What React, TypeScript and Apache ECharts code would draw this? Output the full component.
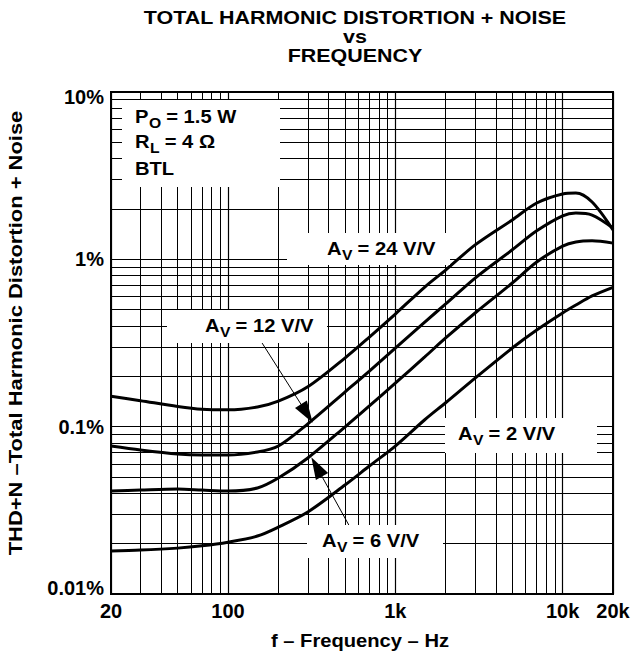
import React, { useEffect, useRef } from 'react';
import * as echarts from 'echarts';

const FONT = '"Liberation Sans", Arial, Helvetica, sans-serif';

// Frequencies (Hz) and THD+N (%)
const freqHz = [20, 30, 50, 70, 100, 150, 200, 300, 500, 700, 1000, 1500, 2000, 3000, 5000, 7000, 10000, 12000, 15000, 20000];
const thdAv24 = [0.152, 0.143, 0.132, 0.127, 0.126, 0.131, 0.142, 0.173, 0.257, 0.343, 0.471, 0.683, 0.863, 1.22, 1.72, 2.17, 2.46, 2.49, 2.2, 1.5];
const thdAv12 = [0.0766, 0.0725, 0.0686, 0.0677, 0.0677, 0.0706, 0.0766, 0.104, 0.161, 0.215, 0.295, 0.422, 0.541, 0.773, 1.14, 1.48, 1.82, 1.89, 1.84, 1.54];
const thdAv6 = [0.0412, 0.0418, 0.0424, 0.0418, 0.0412, 0.043, 0.0493, 0.065, 0.0995, 0.133, 0.182, 0.261, 0.339, 0.478, 0.722, 0.964, 1.2, 1.27, 1.29, 1.25];
const thdAv2 = [0.0181, 0.0183, 0.0188, 0.0194, 0.0204, 0.0222, 0.0251, 0.0309, 0.0448, 0.0582, 0.0766, 0.11, 0.139, 0.195, 0.295, 0.378, 0.478, 0.533, 0.604, 0.68];

// Axis ticks
const xTickValues = [20, 100, 1000, 10000, 20000];
const xTickLabels = ['20', '100', '1k', '10k', '20k'];
const yTickValues = [0.01, 0.1, 1, 10];
const yTickLabels = ['0.01%', '0.1%', '1%', '10%'];
const xMinorGrid = [30, 40, 50, 60, 70, 80, 90, 200, 300, 400, 500, 600, 700, 800, 900, 2000, 3000, 4000, 5000, 6000, 7000, 8000, 9000];
const yMinorGrid = [0.02, 0.03, 0.04, 0.05, 0.06, 0.07, 0.08, 0.09, 0.2, 0.3, 0.4, 0.5, 0.6, 0.7, 0.8, 0.9, 2, 3, 4, 5, 6, 7, 8, 9];

// Annotation arrows (data coordinates: tail, head)
const arrowAv12 = [[160, 0.316], [296, 0.12]];
const arrowAv6 = [[536, 0.0251], [339, 0.0575]];

const EM: Record<string, number> = { A: 0.722, V: 0.667, O: 0.778, L: 0.611, P: 0.667, R: 0.722, ' ': 0.278 };

function nearestLabel(v: number, vals: number[], labels: string[]) {
  let best = 0;
  let bd = Infinity;
  vals.forEach((t, i) => {
    const d = Math.abs(Math.log10(v) - Math.log10(t));
    if (d < bd) { bd = d; best = i; }
  });
  return labels[best];
}

function txt(x: number, y: number, text: string, fs: number, extra: any = {}) {
  return {
    type: 'text', x, y, z: 101,
    style: {
      text, fontSize: fs, fontWeight: 'bold', fontFamily: FONT, fill: '#000',
      align: 'left', verticalAlign: 'middle', textAlign: 'left', textVerticalAlign: 'middle', ...extra,
    },
  };
}

function subLabel(x: number, baseY: number, main: string, sub: string, rest: string, fs = 18, sfs = 14, sx = 1.12) {
  const mw = EM[main] * fs;
  const sw = EM[sub] * sfs;
  const sp = EM[' '] * fs;
  return {
    type: 'group', x, y: baseY, scaleX: sx, z: 101,
    children: [
      txt(0, -0.35 * fs, main, fs),
      txt(mw + 0.5, 0, sub, sfs),
      txt(mw + sw + sp, -0.35 * fs, rest, fs),
    ],
  };
}

function box(x: number, y: number, w: number, h: number) {
  return { type: 'rect', z: 100, shape: { x, y, width: w, height: h }, style: { fill: '#fff', stroke: null } };
}

function centered(x: number, y: number, text: string, fs: number, sx: number, rotation = 0) {
  return {
    type: 'text', x, y, z: 101, scaleX: sx, rotation,
    style: {
      text, fontSize: fs, fontWeight: 'bold', fontFamily: FONT, fill: '#000',
      align: 'center', verticalAlign: 'middle', textAlign: 'center', textVerticalAlign: 'middle',
    },
  };
}

export default function App() {
  const ref = useRef<HTMLDivElement>(null);
  useEffect(() => {
    const chart = echarts.init(ref.current!, null, { renderer: 'svg' });
    const curve = (vals: number[]) => freqHz.map((f, i) => [f, vals[i]]);
    const lineBase = { type: 'line', symbol: 'none', smooth: 0.3, lineStyle: { color: '#000', width: 3 }, z: 5, silent: true };
    const arrowMark = (a: number[][]) => ({
      silent: true,
      symbol: ['none', 'triangle'],
      symbolSize: [14, 22],
      label: { show: false },
      lineStyle: { color: '#000', width: 1, type: 'solid' },
      itemStyle: { color: '#000' },
      data: [[{ coord: a[0] }, { coord: a[1] }]],
    });
    chart.setOption({
      animation: false,
      backgroundColor: '#fff',
      grid: { left: 111, top: 92, right: 31, bottom: 65, show: true, borderColor: '#000', borderWidth: 2, backgroundColor: 'transparent' },
      xAxis: {
        type: 'log', logBase: 10, min: 20, max: 20000,
        axisLine: { show: false }, axisTick: { show: false },
        splitLine: { show: true, lineStyle: { color: '#000', width: 1.2 } },
        axisLabel: {
          show: true, showMinLabel: true, showMaxLabel: true, margin: 7,
          fontSize: 20, fontWeight: 'bold', fontFamily: FONT, color: '#000',
          formatter: (v: number) => nearestLabel(v, xTickValues, xTickLabels),
        },
      },
      yAxis: {
        type: 'log', logBase: 10, min: 0.01, max: 10,
        axisLine: { show: false }, axisTick: { show: false },
        splitLine: { show: true, lineStyle: { color: '#000', width: 1.2 } },
        axisLabel: {
          show: true, showMinLabel: true, showMaxLabel: true, margin: 7,
          fontSize: 20, fontWeight: 'bold', fontFamily: FONT, color: '#000',
          formatter: (v: number) => {
            const l = nearestLabel(v, yTickValues, yTickLabels);
            if (l === yTickLabels[yTickLabels.length - 1]) return '{top|' + l + '}';
            if (l === yTickLabels[0]) return '{bot|' + l + '}';
            return l;
          },
          rich: {
            top: { fontSize: 20, fontWeight: 'bold', fontFamily: FONT, color: '#000', padding: [10, 0, 0, 0] },
            bot: { fontSize: 20, fontWeight: 'bold', fontFamily: FONT, color: '#000', padding: [0, 0, 12, 0] },
          },
        },
      },
      series: [
        {
          ...lineBase, name: 'Av24', data: curve(thdAv24),
          markLine: {
            silent: true, symbol: 'none', label: { show: false },
            lineStyle: { color: '#000', width: 1, type: 'solid' },
            emphasis: { disabled: true },
            data: [...xMinorGrid.map((v) => ({ xAxis: v })), ...yMinorGrid.map((v) => ({ yAxis: v }))],
          },
        },
        { ...lineBase, name: 'Av12', data: curve(thdAv12), markLine: arrowMark(arrowAv12) },
        { ...lineBase, name: 'Av6', data: curve(thdAv6), markLine: arrowMark(arrowAv6) },
        { ...lineBase, name: 'Av2', data: curve(thdAv2) },
      ],
      graphic: [
        centered(355, 24 - 0.35 * 19, 'TOTAL HARMONIC DISTORTION + NOISE', 19, 1.13),
        centered(355, 43 - 0.35 * 19, 'vs', 19, 1.13),
        centered(355, 62 - 0.35 * 19, 'FREQUENCY', 19, 1.13),
        centered(360, 641, 'f – Frequency – Hz', 18, 1.12),
        centered(16, 333, 'THD+N –Total Harmonic Distortion + Noise', 18, 1.22, Math.PI / 2),
        box(122, 100, 158, 87),
        box(287, 233, 163, 32),
        box(167, 310, 160, 33),
        box(307, 525, 136, 33),
        box(445, 418, 152, 35),
        subLabel(135, 123, 'P', 'O', '= 1.5 W'),
        subLabel(135, 148, 'R', 'L', '= 4 Ω'),
        { type: 'group', x: 135, y: 175, scaleX: 1.12, z: 101, children: [txt(0, -0.35 * 18, 'BTL', 18)] },
        subLabel(327, 255, 'A', 'V', '= 24 V/V'),
        subLabel(205, 332, 'A', 'V', '= 12 V/V'),
        subLabel(322, 547, 'A', 'V', '= 6 V/V'),
        subLabel(458, 440, 'A', 'V', '= 2 V/V'),
      ],
    });
    return () => chart.dispose();
  }, []);
  return <div ref={ref} style={{ position: 'fixed', left: 0, top: 0, width: 644, height: 659, background: '#fff' }} />;
}
